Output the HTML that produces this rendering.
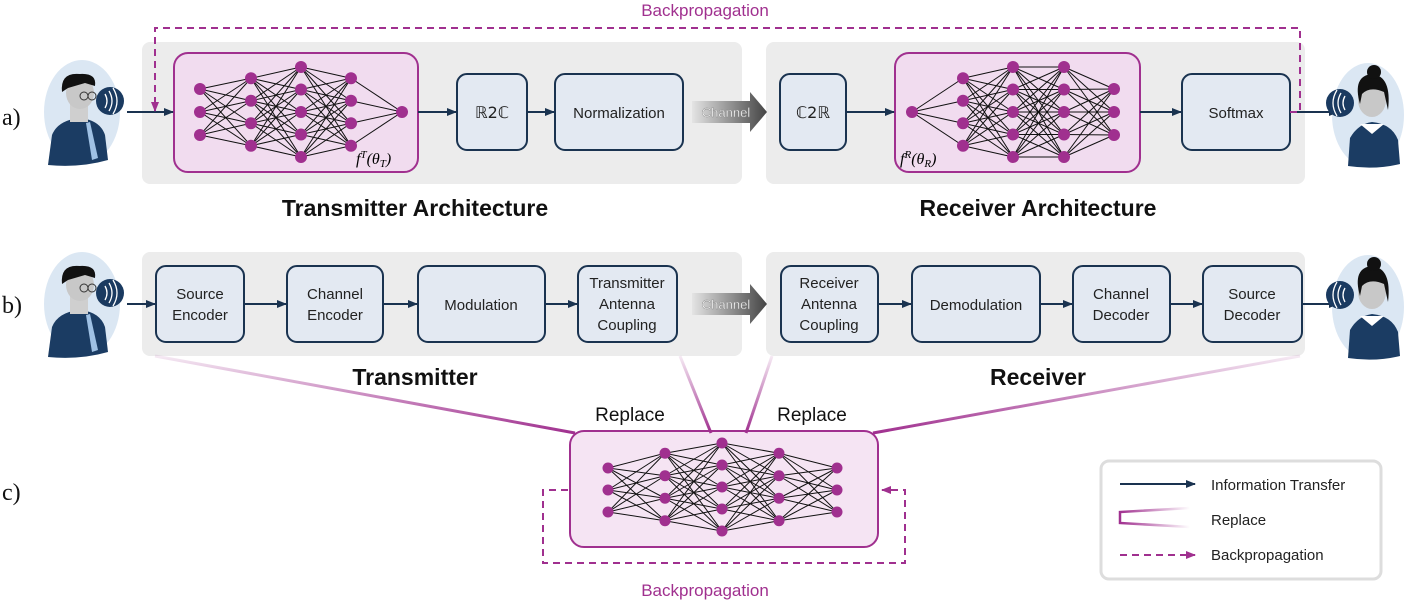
<!DOCTYPE html>
<html><head><meta charset="utf-8"><style>
body{margin:0;background:#fff;width:1412px;height:602px;overflow:hidden}
svg text{font-family:"Liberation Sans",sans-serif}
svg text.sf{font-family:"Liberation Serif",serif}
svg text.dj{font-family:"DejaVu Sans",sans-serif}
</style></head><body>
<svg id="s" width="1412" height="602" viewBox="0 0 1412 602" xmlns="http://www.w3.org/2000/svg">
<defs>
<marker id="ah" markerWidth="10" markerHeight="10" refX="9" refY="5" orient="auto" markerUnits="userSpaceOnUse"><path d="M0,1 L10,5 L0,9 Z" fill="#1a3350"/></marker>
<marker id="ap" markerWidth="10" markerHeight="10" refX="9" refY="5" orient="auto" markerUnits="userSpaceOnUse"><path d="M0,1 L10,5 L0,9 Z" fill="#a0308f"/></marker>
<linearGradient id="ch" x1="0" x2="1"><stop offset="0" stop-color="#e4e4e4"/><stop offset="1" stop-color="#444"/></linearGradient>
<linearGradient id="rp1" x1="0" y1="0" x2="0" y2="1"><stop offset="0" stop-color="#a0308f" stop-opacity="0.1"/><stop offset="1" stop-color="#a0308f"/></linearGradient>
<linearGradient id="lg" x1="0" x2="1"><stop offset="0" stop-color="#a0308f"/><stop offset="1" stop-color="#a0308f" stop-opacity="0"/></linearGradient>
</defs>
<rect x="142" y="42" width="600" height="142" rx="8" fill="#ececec"/>
<rect x="766" y="42" width="539" height="142" rx="8" fill="#ececec"/>
<rect x="142" y="252" width="600" height="104" rx="8" fill="#ececec"/>
<rect x="766" y="252" width="539" height="104" rx="8" fill="#ececec"/>
<g font-size="24" fill="#111"><text class="sf" x="2" y="125">a)</text><text class="sf" x="2" y="313">b)</text><text class="sf" x="2" y="500">c)</text></g>
<rect x="174" y="53" width="244" height="119" rx="14" fill="#f1dcef" stroke="#a0308f" stroke-width="2"/>
<rect x="895" y="53" width="245" height="119" rx="14" fill="#f1dcef" stroke="#a0308f" stroke-width="2"/>
<rect x="570" y="431" width="308" height="116" rx="14" fill="#f5e4f3" stroke="#a0308f" stroke-width="2"/>
<g id="nets"></g>
<text class="sf" x="356" y="164" font-size="16" font-style="italic">f<tspan dy="-6" font-size="11">T</tspan><tspan dy="6">(θ</tspan><tspan dy="3" font-size="11">T</tspan><tspan dy="-3">)</tspan></text>
<text class="sf" x="900" y="164" font-size="16" font-style="italic">f<tspan dy="-6" font-size="11">R</tspan><tspan dy="6">(θ</tspan><tspan dy="3" font-size="11">R</tspan><tspan dy="-3">)</tspan></text>
<g fill="#e3e9f2" stroke="#1a3350" stroke-width="2">
<rect x="457" y="74" width="70" height="76" rx="10"/>
<rect x="555" y="74" width="128" height="76" rx="10"/>
<rect x="780" y="74" width="66" height="76" rx="10"/>
<rect x="1182" y="74" width="108" height="76" rx="10"/>
<rect x="156" y="266" width="88" height="76" rx="10"/>
<rect x="287" y="266" width="96" height="76" rx="10"/>
<rect x="418" y="266" width="127" height="76" rx="10"/>
<rect x="578" y="266" width="99" height="76" rx="10"/>
<rect x="781" y="266" width="97" height="76" rx="10"/>
<rect x="912" y="266" width="128" height="76" rx="10"/>
<rect x="1073" y="266" width="97" height="76" rx="10"/>
<rect x="1203" y="266" width="99" height="76" rx="10"/>
</g>
<g font-size="15" fill="#222" text-anchor="middle">
<text class="dj" x="492" y="118" font-size="16">ℝ2ℂ</text>
<text x="619" y="118">Normalization</text>
<text class="dj" x="813" y="118" font-size="16">ℂ2ℝ</text>
<text x="1236" y="118">Softmax</text>
<text x="200" y="299">Source</text><text x="200" y="320">Encoder</text>
<text x="335" y="299">Channel</text><text x="335" y="320">Encoder</text>
<text x="481" y="310">Modulation</text>
<text x="627" y="288">Transmitter</text><text x="627" y="309">Antenna</text><text x="627" y="330">Coupling</text>
<text x="829" y="288">Receiver</text><text x="829" y="309">Antenna</text><text x="829" y="330">Coupling</text>
<text x="976" y="310">Demodulation</text>
<text x="1121" y="299">Channel</text><text x="1121" y="320">Decoder</text>
<text x="1252" y="299">Source</text><text x="1252" y="320">Decoder</text>
</g>
<g stroke="#1a3350" stroke-width="2" marker-end="url(#ah)">
<line x1="127" y1="112" x2="173" y2="112"/>
<line x1="418" y1="112" x2="456" y2="112"/>
<line x1="527" y1="112" x2="554" y2="112"/>
<line x1="846" y1="112" x2="894" y2="112"/>
<line x1="1140" y1="112" x2="1181" y2="112"/>
<line x1="1290" y1="112" x2="1338" y2="112"/>
<line x1="127" y1="304" x2="155" y2="304"/>
<line x1="244" y1="304" x2="286" y2="304"/>
<line x1="383" y1="304" x2="417" y2="304"/>
<line x1="545" y1="304" x2="577" y2="304"/>
<line x1="878" y1="304" x2="911" y2="304"/>
<line x1="1040" y1="304" x2="1072" y2="304"/>
<line x1="1170" y1="304" x2="1202" y2="304"/>
<line x1="1302" y1="304" x2="1338" y2="304"/>
</g>
<path d="M692,101 H750 V92 L767,112 L750,132 V123 H692 Z" fill="url(#ch)"/>
<text x="726" y="117" font-size="13" fill="#fff" text-anchor="middle" stroke="#888" stroke-width="0.4">Channel</text>
<path d="M692,293 H750 V284 L767,304 L750,324 V315 H692 Z" fill="url(#ch)"/>
<text x="726" y="309" font-size="13" fill="#fff" text-anchor="middle" stroke="#888" stroke-width="0.4">Channel</text>
<path d="M1290,112 H1300 V28 H155 V111" fill="none" stroke="#a0308f" stroke-width="2" stroke-dasharray="7,5" marker-end="url(#ap)"/>
<text x="705" y="16" font-size="17" fill="#a0308f" text-anchor="middle">Backpropagation</text>
<g font-size="23" font-weight="bold" fill="#111" text-anchor="middle">
<text x="415" y="216">Transmitter Architecture</text>
<text x="1038" y="216">Receiver Architecture</text>
<text x="415" y="385">Transmitter</text>
<text x="1038" y="385">Receiver</text>
</g>
<g stroke="url(#rp1)" stroke-width="3" fill="none">
<path d="M155,356 L575,433"/>
<path d="M680,356 L711,433"/>
<path d="M772,356 L746,433"/>
<path d="M1300,356 L873,433"/>
</g>
<text x="630" y="421" font-size="19" fill="#111" text-anchor="middle">Replace</text>
<text x="812" y="421" font-size="19" fill="#111" text-anchor="middle">Replace</text>
<path d="M568,490 H543 V563 H905 V490 H882" fill="none" stroke="#a0308f" stroke-width="2" stroke-dasharray="7,5" marker-end="url(#ap)"/>
<text x="705" y="596" font-size="17" fill="#a0308f" text-anchor="middle">Backpropagation</text>
<rect x="1101" y="461" width="280" height="118" rx="8" fill="#fff" stroke="#ddd" stroke-width="3"/>
<line x1="1120" y1="484" x2="1195" y2="484" stroke="#1a3350" stroke-width="2" marker-end="url(#ah)"/>
<path d="M1190,508 L1120,512 V523 L1190,527" fill="none" stroke="url(#lg)" stroke-width="2.5"/>
<line x1="1120" y1="555" x2="1195" y2="555" stroke="#a0308f" stroke-width="2" stroke-dasharray="7,5" marker-end="url(#ap)"/>
<g font-size="15" fill="#222"><text x="1211" y="490">Information Transfer</text><text x="1211" y="525">Replace</text><text x="1211" y="560">Backpropagation</text></g>
<g id="pl">
<ellipse cx="82" cy="112" rx="38" ry="52" fill="#dbe7f3"/>
<circle cx="110" cy="101" r="14" fill="#1a3a60"/>
<path d="M105,94 q4,7 0,14 M109,91 q6,10 0,20 M113,88 q8,13 0,26" stroke="#fff" stroke-width="1.3" fill="none"/>
<path d="M48,165 L52,135 Q58,120 80,118 Q100,120 105,135 L108,160 Q80,168 48,165Z" fill="#1b3c63"/>
<path d="M86,123 L92,160 L98,158 L90,122Z" fill="#9fc1e4"/>
<rect x="70" y="100" width="18" height="22" fill="#cfcfcf"/>
<ellipse cx="80" cy="93" rx="14" ry="16" fill="#c8c8c8"/>
<path d="M62,92 Q60,72 80,74 Q97,73 95,86 L85,83 L68,88 Z" fill="#111"/>
<circle cx="84" cy="96" r="4" fill="none" stroke="#333"/><circle cx="92" cy="96" r="4" fill="none" stroke="#333"/>
</g>
<g id="pr">
<ellipse cx="1368" cy="115" rx="36" ry="52" fill="#dbe7f3"/>
<circle cx="1340" cy="103" r="14" fill="#1a3a60"/>
<path d="M1345,96 q-4,7 0,14 M1341,93 q-6,10 0,20 M1337,90 q-8,13 0,26" stroke="#fff" stroke-width="1.3" fill="none"/>
<path d="M1348,166 L1350,138 Q1358,124 1372,122 Q1392,124 1398,140 L1400,164 Q1375,170 1348,166Z" fill="#1b3c63"/>
<path d="M1360,124 L1372,134 L1384,124Z" fill="#fff"/>
<ellipse cx="1372" cy="100" rx="14" ry="17" fill="#c8c8c8"/>
<path d="M1360,104 Q1352,76 1372,74 Q1392,76 1388,110 L1384,92 Q1370,86 1362,94Z" fill="#111"/>
<circle cx="1374" cy="72" r="7" fill="#111"/>
</g>
<use href="#pl" transform="translate(0,192)"/>
<use href="#pr" transform="translate(0,192)"/>
</svg>
<script>
var g=document.getElementById('nets'),NS="http://www.w3.org/2000/svg";
function col(x,n,cy,sp){var a=[];for(var i=0;i<n;i++)a.push([x,cy+(i-(n-1)/2)*sp]);return a;}
function net(layers,r){var L=layers;for(var k=0;k<L.length-1;k++)for(var a of L[k])for(var b of L[k+1]){var l=document.createElementNS(NS,'line');l.setAttribute('x1',a[0]);l.setAttribute('y1',a[1]);l.setAttribute('x2',b[0]);l.setAttribute('y2',b[1]);l.setAttribute('stroke','#111');l.setAttribute('stroke-width','1');g.appendChild(l);}
for(var c of L)for(var p of c){var e=document.createElementNS(NS,'circle');e.setAttribute('cx',p[0]);e.setAttribute('cy',p[1]);e.setAttribute('r',r);e.setAttribute('fill','#a0308f');g.appendChild(e);}}
net([col(200,3,112,23),col(251,4,112,22.5),col(301,5,112,22.5),col(351,4,112,22.5),col(402,1,112,0)],6);
net([col(912,1,112,0),col(963,4,112,22.5),col(1013,5,112,22.5),col(1064,5,112,22.5),col(1114,3,112,23)],6);
net([col(608,3,490,22),col(665,4,487,22.5),col(722,5,487,22),col(779,4,487,22.5),col(837,3,490,22)],5.5);
</script>
</body></html>
